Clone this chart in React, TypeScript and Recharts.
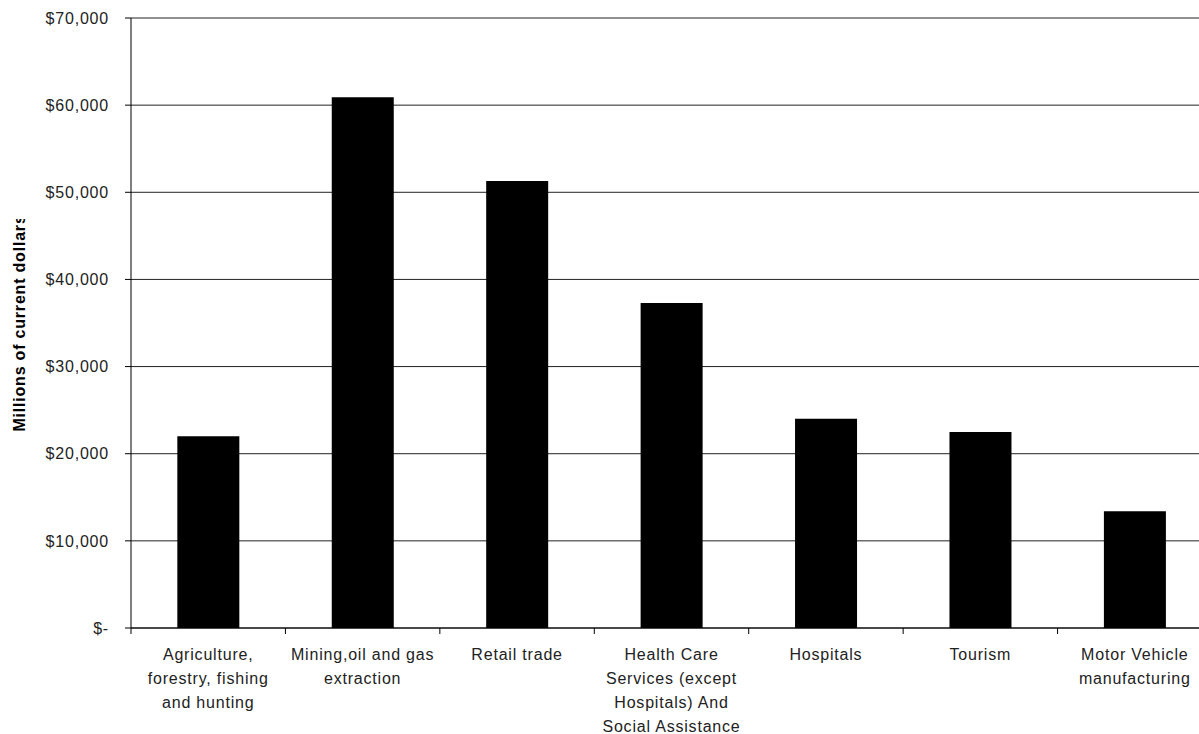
import { BarChart, Bar, XAxis, YAxis, CartesianGrid } from 'recharts'

const categories = [
  'Agriculture,\nforestry, fishing\nand hunting',
  'Mining,oil and gas\nextraction',
  'Retail trade',
  'Health Care\nServices (except\nHospitals) And\nSocial Assistance',
  'Hospitals',
  'Tourism',
  'Motor Vehicle\nmanufacturing',
]
const values = [22000, 60900, 51300, 37300, 24000, 22500, 13400]
const yTicks = [0, 10000, 20000, 30000, 40000, 50000, 60000, 70000]
const yLabel = 'Millions of current dollars'

const data = categories.map((name, i) => ({ name, value: values[i] }))

const W = 1230
const H = 734
const M = { top: 18, right: 18, left: 0, bottom: 0 }
const YAXIS_W = 131
const BAND = (W - M.left - M.right - YAXIS_W) / categories.length
const FONT = 'Arial, "Liberation Sans", sans-serif'

const fmt = (v: number) => (v === 0 ? '$-' : '$' + v.toLocaleString('en-US'))

function CatTick(props: any) {
  const { x, y, payload } = props
  const lines = String(payload.value).split('\n')
  return (
    <g>
      <line x1={x - BAND / 2} x2={x - BAND / 2} y1={y} y2={y + 6} stroke="#000" />
      <text x={x} y={y + 32} textAnchor="middle" fontSize={16} letterSpacing={0.8} fill="#222" fontFamily={FONT}>
        {lines.map((l, i) => (
          <tspan key={i} x={x} dy={i === 0 ? 0 : 24}>{l}</tspan>
        ))}
      </text>
    </g>
  )
}

// the original label runs past the chart area and gets cut at the top
function YLabel(props: any) {
  const vb = props.viewBox || {}
  const cy = vb.y + vb.height / 2
  return (
    <g>
      <defs>
        <clipPath id="ylabel-clip">
          <rect x={0} y={219} width={60} height={500} />
        </clipPath>
      </defs>
      <g clipPath="url(#ylabel-clip)">
        <text
          x={19}
          y={cy}
          transform={`rotate(-90 19 ${cy})`}
          textAnchor="middle"
          dominantBaseline="central"
          fontSize={16}
          fontWeight="bold"
          letterSpacing={0.8}
          fill="#000"
          fontFamily={FONT}
        >
          {yLabel}
        </text>
      </g>
    </g>
  )
}

export default function App() {
  return (
    <div style={{ position: 'absolute', left: 0, top: 0, width: 1199, height: 734, overflow: 'hidden', background: '#fff' }}>
      <BarChart width={W} height={H} data={data} margin={M} barCategoryGap="30%">
        <CartesianGrid vertical={false} stroke="#222" />
        <XAxis
          dataKey="name"
          interval={0}
          tickLine={false}
          tickSize={0}
          tickMargin={0}
          axisLine={{ stroke: '#000' }}
          height={106}
          tick={<CatTick />}
        />
        <YAxis
          width={YAXIS_W}
          domain={[0, 70000]}
          ticks={yTicks}
          interval={0}
          tickFormatter={fmt}
          tickSize={6}
          tickMargin={16}
          axisLine={{ stroke: '#000' }}
          tickLine={{ stroke: '#000' }}
          tick={{ fontSize: 16, fill: '#222', fontFamily: FONT, letterSpacing: 0.8 }}
          label={<YLabel />}
        />
        <Bar dataKey="value" fill="#000" isAnimationActive={false} />
      </BarChart>
    </div>
  )
}
